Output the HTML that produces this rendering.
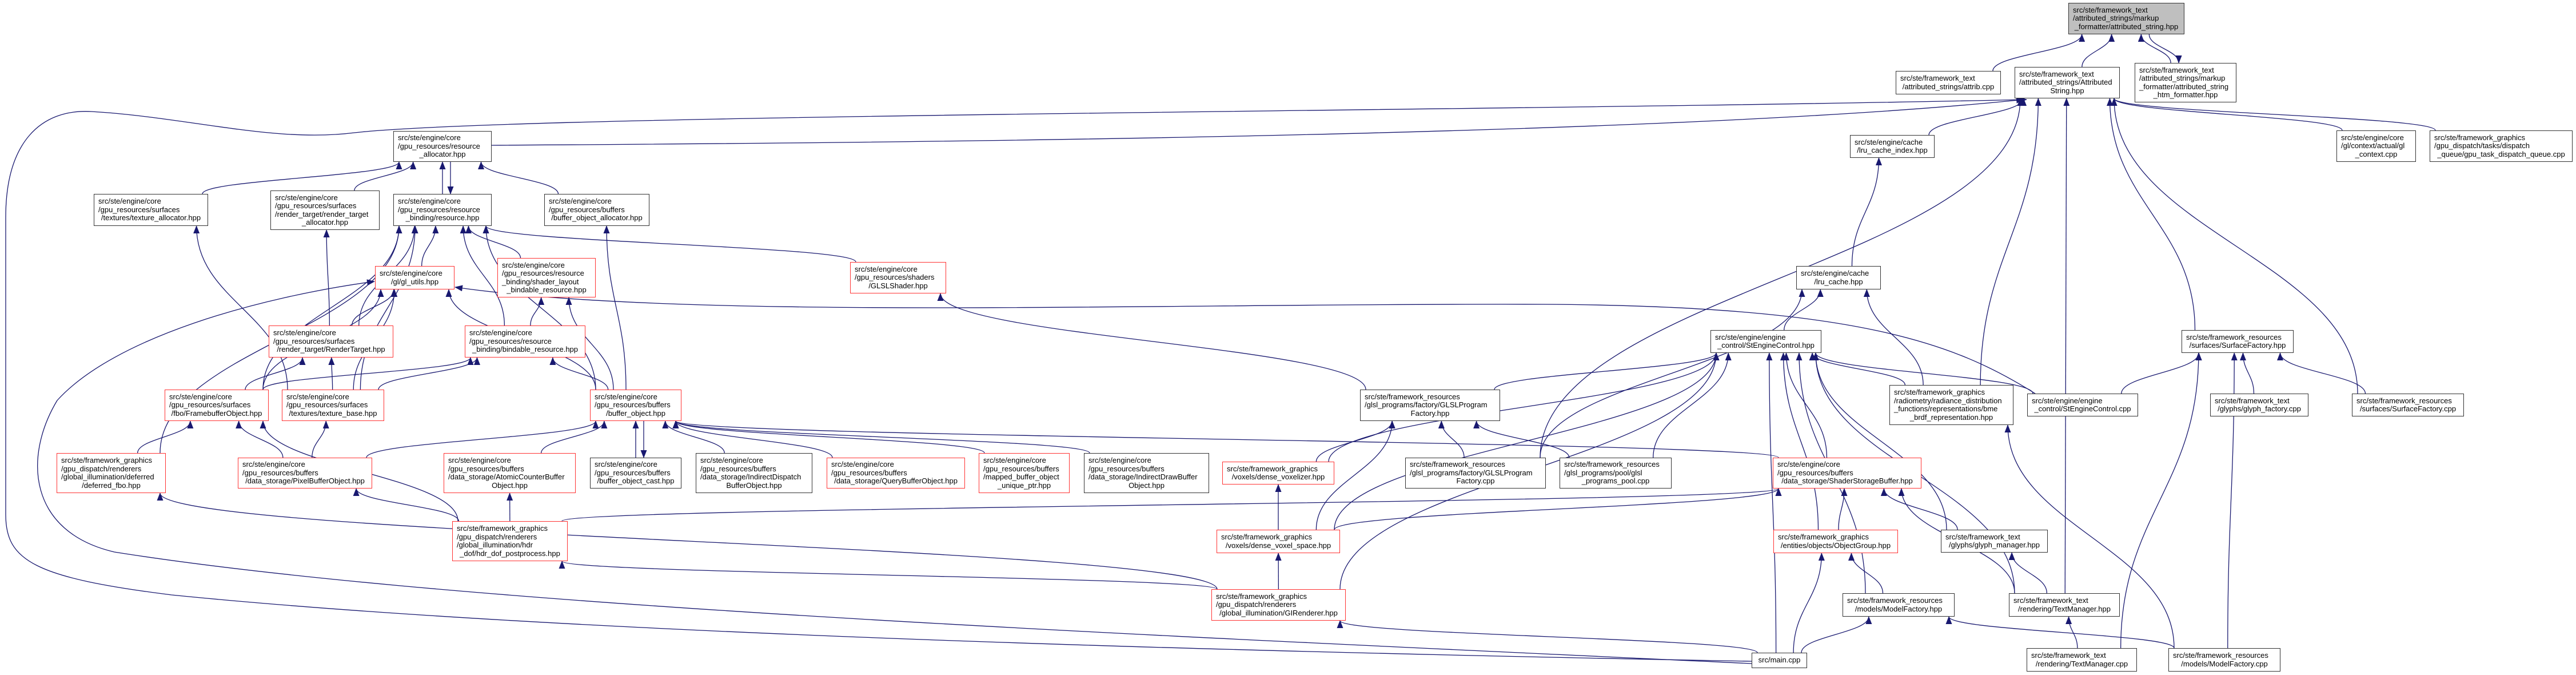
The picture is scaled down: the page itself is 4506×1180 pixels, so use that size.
<!DOCTYPE html>
<html><head><meta charset="utf-8">
<style>
html,body{margin:0;padding:0;background:#fff;}
#c{position:relative;width:4506px;height:1180px;overflow:hidden;background:#fff;}
svg{position:absolute;left:0;top:0;}
.n{position:absolute;box-sizing:border-box;border:1.5px solid #333;background:#fff;font-family:"Liberation Sans",Arial,sans-serif;font-size:13px;line-height:14.5px;color:#000;display:flex;flex-direction:column;justify-content:center;padding:0 7px;white-space:nowrap;}
.n span{display:block;}
.n span:last-child{text-align:center;}
.r{border-color:#f33;}
.g{background:#bfbfbf;}
</style></head><body>
<div id="c">
<svg id="s" width="4506" height="1180" viewBox="0 0 4506 1180">
<defs><marker id="ar" markerUnits="userSpaceOnUse" markerWidth="14" markerHeight="11" refX="13" refY="5.5" orient="auto"><path d="M0,0 L14,5.5 L0,11 z" fill="#191970"/></marker></defs>
<g id="eg" fill="none" stroke="#191970" stroke-width="1.3"></g>
</svg>
<div class="n g" style="left:3618px;top:5px;width:203px;height:55px"><span>src/ste/framework_text</span><span>/attributed_strings/markup</span><span>_formatter/attributed_string.hpp</span></div>
<div class="n" style="left:3316px;top:124px;width:184px;height:41px"><span>src/ste/framework_text</span><span>/attributed_strings/attrib.cpp</span></div>
<div class="n" style="left:3524px;top:117px;width:184px;height:55px"><span>src/ste/framework_text</span><span>/attributed_strings/Attributed</span><span>String.hpp</span></div>
<div class="n" style="left:3734px;top:110px;width:178px;height:69px"><span>src/ste/framework_text</span><span>/attributed_strings/markup</span><span>_formatter/attributed_string</span><span>_htm_formatter.hpp</span></div>
<div class="n" style="left:688px;top:229px;width:172px;height:54px"><span>src/ste/engine/core</span><span>/gpu_resources/resource</span><span>_allocator.hpp</span></div>
<div class="n" style="left:164px;top:339px;width:200px;height:56px"><span>src/ste/engine/core</span><span>/gpu_resources/surfaces</span><span>/textures/texture_allocator.hpp</span></div>
<div class="n" style="left:473px;top:333px;width:191px;height:69px"><span>src/ste/engine/core</span><span>/gpu_resources/surfaces</span><span>/render_target/render_target</span><span>_allocator.hpp</span></div>
<div class="n" style="left:688px;top:339px;width:172px;height:56px"><span>src/ste/engine/core</span><span>/gpu_resources/resource</span><span>_binding/resource.hpp</span></div>
<div class="n" style="left:952px;top:339px;width:184px;height:56px"><span>src/ste/engine/core</span><span>/gpu_resources/buffers</span><span>/buffer_object_allocator.hpp</span></div>
<div class="n r" style="left:656px;top:465px;width:139px;height:41px"><span>src/ste/engine/core</span><span>/gl/gl_utils.hpp</span></div>
<div class="n r" style="left:870px;top:451px;width:172px;height:69px"><span>src/ste/engine/core</span><span>/gpu_resources/resource</span><span>_binding/shader_layout</span><span>_bindable_resource.hpp</span></div>
<div class="n r" style="left:470px;top:569px;width:218px;height:56px"><span>src/ste/engine/core</span><span>/gpu_resources/surfaces</span><span>/render_target/RenderTarget.hpp</span></div>
<div class="n r" style="left:813px;top:569px;width:211px;height:56px"><span>src/ste/engine/core</span><span>/gpu_resources/resource</span><span>_binding/bindable_resource.hpp</span></div>
<div class="n r" style="left:288px;top:681px;width:182px;height:55px"><span>src/ste/engine/core</span><span>/gpu_resources/surfaces</span><span>/fbo/FramebufferObject.hpp</span></div>
<div class="n r" style="left:493px;top:681px;width:179px;height:55px"><span>src/ste/engine/core</span><span>/gpu_resources/surfaces</span><span>/textures/texture_base.hpp</span></div>
<div class="n r" style="left:1032px;top:681px;width:160px;height:55px"><span>src/ste/engine/core</span><span>/gpu_resources/buffers</span><span>/buffer_object.hpp</span></div>
<div class="n r" style="left:99px;top:792px;width:191px;height:70px"><span>src/ste/framework_graphics</span><span>/gpu_dispatch/renderers</span><span>/global_illumination/deferred</span><span>/deferred_fbo.hpp</span></div>
<div class="n r" style="left:416px;top:800px;width:235px;height:54px"><span>src/ste/engine/core</span><span>/gpu_resources/buffers</span><span>/data_storage/PixelBufferObject.hpp</span></div>
<div class="n r" style="left:776px;top:792px;width:231px;height:70px"><span>src/ste/engine/core</span><span>/gpu_resources/buffers</span><span>/data_storage/AtomicCounterBuffer</span><span>Object.hpp</span></div>
<div class="n" style="left:1032px;top:800px;width:160px;height:54px"><span>src/ste/engine/core</span><span>/gpu_resources/buffers</span><span>/buffer_object_cast.hpp</span></div>
<div class="n r" style="left:791px;top:911px;width:202px;height:70px"><span>src/ste/framework_graphics</span><span>/gpu_dispatch/renderers</span><span>/global_illumination/hdr</span><span>_dof/hdr_dof_postprocess.hpp</span></div>
<div class="n r" style="left:1487px;top:458px;width:168px;height:55px"><span>src/ste/engine/core</span><span>/gpu_resources/shaders</span><span>/GLSLShader.hpp</span></div>
<div class="n" style="left:1217px;top:792px;width:204px;height:70px"><span>src/ste/engine/core</span><span>/gpu_resources/buffers</span><span>/data_storage/IndirectDispatch</span><span>BufferObject.hpp</span></div>
<div class="n r" style="left:1446px;top:800px;width:242px;height:54px"><span>src/ste/engine/core</span><span>/gpu_resources/buffers</span><span>/data_storage/QueryBufferObject.hpp</span></div>
<div class="n r" style="left:1712px;top:792px;width:159px;height:70px"><span>src/ste/engine/core</span><span>/gpu_resources/buffers</span><span>/mapped_buffer_object</span><span>_unique_ptr.hpp</span></div>
<div class="n" style="left:1896px;top:792px;width:219px;height:70px"><span>src/ste/engine/core</span><span>/gpu_resources/buffers</span><span>/data_storage/IndirectDrawBuffer</span><span>Object.hpp</span></div>
<div class="n r" style="left:2138px;top:807px;width:196px;height:40px"><span>src/ste/framework_graphics</span><span>/voxels/dense_voxelizer.hpp</span></div>
<div class="n r" style="left:2128px;top:926px;width:216px;height:41px"><span>src/ste/framework_graphics</span><span>/voxels/dense_voxel_space.hpp</span></div>
<div class="n r" style="left:2119px;top:1030px;width:235px;height:55px"><span>src/ste/framework_graphics</span><span>/gpu_dispatch/renderers</span><span>/global_illumination/GIRenderer.hpp</span></div>
<div class="n" style="left:3236px;top:236px;width:148px;height:40px"><span>src/ste/engine/cache</span><span>/lru_cache_index.hpp</span></div>
<div class="n" style="left:3142px;top:465px;width:148px;height:41px"><span>src/ste/engine/cache</span><span>/lru_cache.hpp</span></div>
<div class="n" style="left:2992px;top:577px;width:194px;height:40px"><span>src/ste/engine/engine</span><span>_control/StEngineControl.hpp</span></div>
<div class="n" style="left:2379px;top:681px;width:245px;height:55px"><span>src/ste/framework_resources</span><span>/glsl_programs/factory/GLSLProgram</span><span>Factory.hpp</span></div>
<div class="n" style="left:2458px;top:800px;width:246px;height:54px"><span>src/ste/framework_resources</span><span>/glsl_programs/factory/GLSLProgram</span><span>Factory.cpp</span></div>
<div class="n" style="left:2728px;top:800px;width:196px;height:54px"><span>src/ste/framework_resources</span><span>/glsl_programs/pool/glsl</span><span>_programs_pool.cpp</span></div>
<div class="n r" style="left:3101px;top:800px;width:260px;height:54px"><span>src/ste/engine/core</span><span>/gpu_resources/buffers</span><span>/data_storage/ShaderStorageBuffer.hpp</span></div>
<div class="n r" style="left:3102px;top:926px;width:218px;height:41px"><span>src/ste/framework_graphics</span><span>/entities/objects/ObjectGroup.hpp</span></div>
<div class="n" style="left:3223px;top:1037px;width:196px;height:41px"><span>src/ste/framework_resources</span><span>/models/ModelFactory.hpp</span></div>
<div class="n" style="left:3064px;top:1141px;width:97px;height:27px"><span>src/main.cpp</span></div>
<div class="n" style="left:3305px;top:673px;width:217px;height:70px"><span>src/ste/framework_graphics</span><span>/radiometry/radiance_distribution</span><span>_functions/representations/bme</span><span>_brdf_representation.hpp</span></div>
<div class="n" style="left:4087px;top:228px;width:139px;height:55px"><span>src/ste/engine/core</span><span>/gl/context/actual/gl</span><span>_context.cpp</span></div>
<div class="n" style="left:4250px;top:228px;width:250px;height:55px"><span>src/ste/framework_graphics</span><span>/gpu_dispatch/tasks/dispatch</span><span>_queue/gpu_task_dispatch_queue.cpp</span></div>
<div class="n" style="left:3816px;top:577px;width:196px;height:40px"><span>src/ste/framework_resources</span><span>/surfaces/SurfaceFactory.hpp</span></div>
<div class="n" style="left:3546px;top:688px;width:194px;height:40px"><span>src/ste/engine/engine</span><span>_control/StEngineControl.cpp</span></div>
<div class="n" style="left:3866px;top:688px;width:172px;height:40px"><span>src/ste/framework_text</span><span>/glyphs/glyph_factory.cpp</span></div>
<div class="n" style="left:4114px;top:688px;width:196px;height:40px"><span>src/ste/framework_resources</span><span>/surfaces/SurfaceFactory.cpp</span></div>
<div class="n" style="left:3395px;top:926px;width:187px;height:40px"><span>src/ste/framework_text</span><span>/glyphs/glyph_manager.hpp</span></div>
<div class="n" style="left:3514px;top:1037px;width:194px;height:41px"><span>src/ste/framework_text</span><span>/rendering/TextManager.hpp</span></div>
<div class="n" style="left:3545px;top:1133px;width:193px;height:41px"><span>src/ste/framework_text</span><span>/rendering/TextManager.cpp</span></div>
<div class="n" style="left:3793px;top:1133px;width:196px;height:41px"><span>src/ste/framework_resources</span><span>/models/ModelFactory.cpp</span></div>
</div>
<script>
var N={A:[3618,5,203,55],B:[3316,124,184,41],C:[3524,117,184,55],D:[3734,110,178,69],E:[688,229,172,54],F:[164,339,200,56],G:[473,333,191,69],H:[688,339,172,56],I:[952,339,184,56],J:[656,465,139,41],K:[870,451,172,69],L:[470,569,218,56],M:[813,569,211,56],Nn:[288,681,182,55],O:[493,681,179,55],P:[1032,681,160,55],Q:[99,792,191,70],R:[416,800,235,54],S:[776,792,231,70],T:[1032,800,160,54],U:[791,911,202,70],V:[1487,458,168,55],W:[1217,792,204,70],X:[1446,800,242,54],Y:[1712,792,159,70],Z:[1896,792,219,70],a:[2138,807,196,40],b:[2128,926,216,41],c:[2119,1030,235,55],d:[3236,236,148,40],e:[3142,465,148,41],f:[2992,577,194,40],g:[2379,681,245,55],h:[2458,800,246,54],i:[2728,800,196,54],j:[3101,800,260,54],k:[3102,926,218,41],l:[3223,1037,196,41],m:[3064,1141,97,27],n:[3305,673,217,70],o:[4087,228,139,55],p:[4250,228,250,55],q:[3816,577,196,40],r:[3546,688,194,40],s:[3866,688,172,40],t:[4114,688,196,40],u:[3395,926,187,40],v:[3514,1037,194,41],w:[3545,1133,193,41],x:[3793,1133,196,41]};
var E="B A,C A,D A,A D,d C,o C,p C,n C,v C,q C,t C,h C,V H,g V,F E,G E,H E,E H,I E,J H,K H,L H,M H,Nn H,O H,L J,Nn J,O J,P J,M K,P K,P M,Nn M,O M,Nn L,O L,R Nn,Q Nn,U Nn,R O,O F,L G,P H,P I,T P,P T,S P,R P,W P,X P,Y P,Z P,j P,U R,U S,c U,c Q,m c,a g,b a,b g,c b,f e,h e,n e,e d,g f,a f,k f,m f,n f,r f,u f,v f,c f,i f,l f,j f,b f,r q,s q,t q,w q,x q,k j,u j,v j,b j,m k,l k,m l,w v,v u,x n,x l,h g,i g,U j,Q H".split(",");
var g=document.getElementById("eg"),cnt={};
function cl(v,a,b){return Math.max(a,Math.min(b,v));}
function add(d){var p=document.createElementNS("http://www.w3.org/2000/svg","path");p.setAttribute("d",d);p.setAttribute("marker-end","url(#ar)");g.appendChild(p);}
E.forEach(function(e){var k=e.split(" "),s=N[k[0]],t=N[k[1]];
 var key=[k[0],k[1]].sort().join("-");cnt[key]=(cnt[key]||0)+1;var off=(cnt[key]-1)*14;
 var scx=s[0]+s[2]/2,tcx=t[0]+t[2]/2,d;
 if(t[1]+t[3]<=s[1]){var sx=scx+cl((tcx-scx)*0.25,-s[2]/2+10,s[2]/2-10)+off,tx=tcx+cl((scx-tcx)*0.25,-t[2]/2+10,t[2]/2-10)+off;var sy=s[1],ty=t[1]+t[3],h=(sy-ty)*0.45;d="M"+sx+","+sy+" C"+sx+","+(sy-h)+" "+tx+","+(ty+h)+" "+tx+","+ty;}
 else if(t[1]>=s[1]+s[3]){var sx=scx+cl((tcx-scx)*0.25,-s[2]/2+10,s[2]/2-10)+off,tx=tcx+cl((scx-tcx)*0.25,-t[2]/2+10,t[2]/2-10)+off;var sy=s[1]+s[3],ty=t[1],h=(ty-sy)*0.45;d="M"+sx+","+sy+" C"+sx+","+(sy+h)+" "+tx+","+(ty-h)+" "+tx+","+ty;}
 else{var sy=s[1]+s[3]/2,ty=t[1]+t[3]/2,sx,tx;if(tcx>scx){sx=s[0]+s[2];tx=t[0];}else{sx=s[0];tx=t[0]+t[2];}var h=(tx-sx)*0.4;d="M"+sx+","+sy+" C"+(sx+h)+","+sy+" "+(tx-h)+","+ty+" "+tx+","+ty;}
 add(d);});
add("M860,254 C1500,250 2900,240 3540,174");
add("M3064,1156 C2200,1140 1000,1110 300,1040 C60,1010 10,980 10,900 L10,380 C10,250 70,190 160,195 C330,205 480,250 620,232 C900,200 2600,195 3545,174");
add("M3064,1160 C2000,1110 800,1060 200,965 C50,930 40,800 100,700 C200,590 450,520 655,492");
add("M3560,688 C3420,600 3250,535 2700,532 C2000,530 1200,560 796,502");
</script>
</body></html>
